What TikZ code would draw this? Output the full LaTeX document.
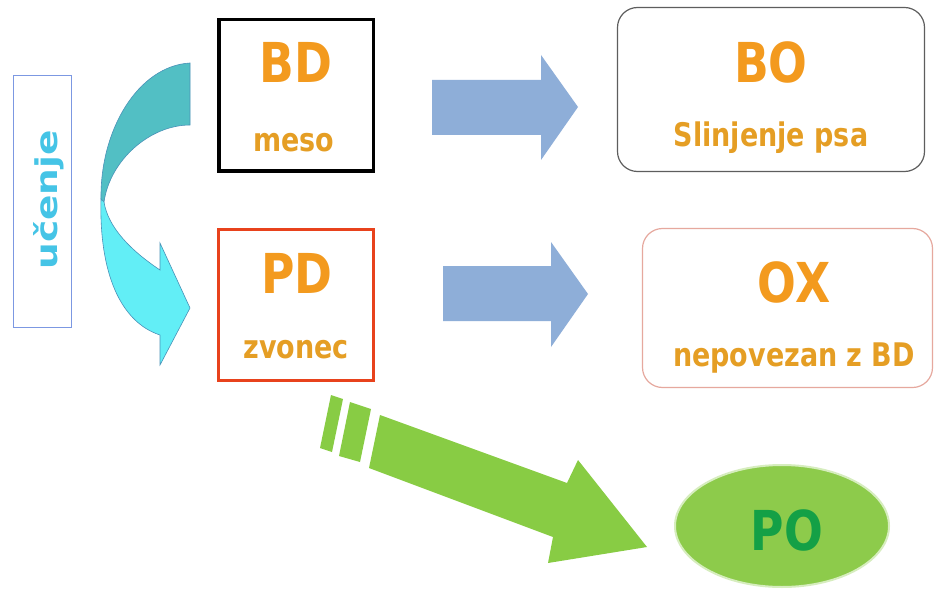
\documentclass[tikz,border=0pt]{standalone}
\usepackage{fontspec}
\setmainfont{DejaVu Sans}[FakeStretch=0.83]
\newfontfamily\ucfont{DejaVu Sans}[FakeStretch=1.25]
\usetikzlibrary{shapes.geometric}
\definecolor{orangeA}{HTML}{F39A1E}
\definecolor{orangeB}{HTML}{E59E24}
\definecolor{arrowblue}{HTML}{8EAED8}
\definecolor{tealtop}{HTML}{52BFC4}
\definecolor{cyanbot}{HTML}{62EEF6}
\definecolor{curveedge}{HTML}{4A92B8}
\definecolor{greenA}{HTML}{88CC44}
\definecolor{ellgreen}{HTML}{8DCB4B}
\definecolor{ellrim}{HTML}{D6EDBE}
\definecolor{pogreen}{HTML}{14A046}
\definecolor{ucblue}{HTML}{7C98E2}
\definecolor{uctext}{HTML}{45C4E6}
\definecolor{redbox}{HTML}{E8421C}
\definecolor{graybox}{HTML}{5E5E5E}
\definecolor{pinkbox}{HTML}{E6A89E}
\tikzset{
  bigtxt/.style={font=\fontsize{55}{60}\selectfont\bfseries, text=orangeA, inner sep=0pt, anchor=base},
  smalltxt/.style={font=\fontsize{32.5}{36}\selectfont\bfseries, text=orangeB, inner sep=0pt, anchor=base},
  sqbox/.style={draw, inner sep=0pt},
  rbox/.style={draw, rounded corners=20pt, line width=1.2pt, inner sep=0pt},
  blockarrow/.style={fill=arrowblue},
  greenarrow/.style={fill=greenA},
}
\begin{document}
\begin{tikzpicture}[x=1pt,y=-1pt]
\useasboundingbox[fill=white] (0,0) rectangle (936,596);

% learning box
\node[sqbox, draw=ucblue, line width=1.8pt, minimum width=58pt, minimum height=252pt] (ucbox) at (42.5,201.5) {};
\node[font=\ucfont\fontsize{30}{32}\selectfont\bfseries, text=uctext, rotate=90, anchor=base, inner sep=0pt] (uc) at (57,200) {učenje};

% curved arrow
\fill[tealtop, draw=curveedge, line width=0.6pt]
  (190,63) .. controls (138,66) and (100,130) .. (101,199)
  -- (104,202) .. controls (110,160) and (150,125) .. (190,125) -- cycle;
\fill[cyanbot, draw=curveedge, line width=0.6pt]
  (101,199) .. controls (99,272) and (120,322) .. (160,335)
  -- (160,365) -- (190,308) -- (160,243) -- (160,270)
  .. controls (130,250) and (108,227) .. (104,202) -- cycle;

% stimulus boxes
\node[sqbox, draw=black, line width=3.5pt, minimum width=154.5pt, minimum height=151.5pt] (bd) at (296,95.5) {};
\node[sqbox, draw=redbox, line width=3pt, minimum width=155pt, minimum height=151pt] (pd) at (296,305) {};
\node[bigtxt] (bdt) at (296,83) {BD};
\node[smalltxt] (meso) at (294,152) {meso};
\node[bigtxt] (pdt) at (297,293) {PD};
\node[smalltxt] (zvonec) at (296,358) {zvonec};

% response boxes
\node[rbox, draw=graybox, minimum width=307pt, minimum height=164pt] (bo) at (771,89.5) {};
\node[rbox, draw=pinkbox, minimum width=290pt, minimum height=159pt] (ox) at (787.5,308) {};
\node[bigtxt] (bot) at (771,83) {BO};
\node[smalltxt] (slin) at (771,147) {Slinjenje psa};
\node[bigtxt] (oxt) at (794,302) {OX};
\node[smalltxt] (nep) at (794,366) {nepovezan z BD};

% blue block arrows
\fill[blockarrow] (432,80) -- (541,80) -- (541,55) -- (578,107) -- (541,160) -- (541,135) -- (432,135) -- cycle;
\fill[blockarrow] (443,266) -- (551,266) -- (551,242) -- (588,294) -- (551,347) -- (551,321) -- (443,321) -- cycle;

% green striped arrow
\fill[greenarrow] (331,395) -- (343,399) -- (332,452) -- (320,448) -- cycle;
\fill[greenarrow] (350,402) -- (371,409) -- (360,462) -- (339,456) -- cycle;
\fill[greenarrow] (380,415) -- (567,483) -- (578,460) -- (647,547) -- (548,563) -- (553,537) -- (369,468) -- cycle;

% PO ellipse
\node[ellipse, fill=ellgreen, draw=ellrim, line width=2pt, minimum width=214pt, minimum height=122pt, inner sep=0pt] (po) at (782,526) {};
\node[bigtxt, text=pogreen] (pot) at (787,550) {PO};
\end{tikzpicture}
\end{document}
